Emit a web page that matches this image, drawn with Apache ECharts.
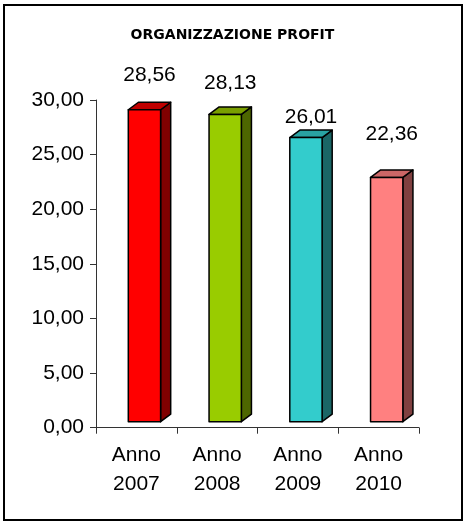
<!DOCTYPE html>
<html>
<head>
<meta charset="utf-8">
<title>Organizzazione profit</title>
<script src="https://cdn.jsdelivr.net/npm/echarts@6/dist/echarts.min.js"></script>
<style>
  html, body { margin: 0; padding: 0; background: #fff; }
  #chart { width: 465px; height: 524px; }
</style>
</head>
<body>
<div id="chart"></div>
<script>
// Data
const categories = ['Anno 2007', 'Anno 2008', 'Anno 2009', 'Anno 2010'];
const values = [28.56, 28.13, 26.01, 22.36];
const yTicks = { min: 0, max: 30, interval: 5 };

// Styling for the pseudo-3D columns
const frontColors = ['#FF0000', '#99CC00', '#33CCCC', '#FF8080'];
const topColors   = ['#C00000', '#7A9F00', '#29A3A3', '#CC6666'];
const sideColors  = ['#800000', '#4D6600', '#1A6666', '#804040'];
const labelLift = [35, 31, 20, 43];   // distance of value label above the column top

const FONT = '"Liberation Sans", Arial, sans-serif';
const fmt = v => v.toFixed(2).replace('.', ',');

const chart = echarts.init(document.getElementById('chart'), null, { renderer: 'canvas' });

function renderColumn(params, api) {
  const i = api.value(0);
  const v = api.value(1);
  const band = api.size([1, 0])[0];
  const topPt = api.coord([i, v]);
  const basePt = api.coord([i, 0]);
  const raise = 6;
  const w = band * 0.40;
  const dx = band * 0.125;
  const dy = 7.5;
  const L = topPt[0] - band * 0.10;
  const R = L + w;
  const T = topPt[1] - raise;
  const B = basePt[1] - raise;
  const stroke = { stroke: '#000', lineWidth: 1.5, lineJoin: 'round' };
  return {
    type: 'group',
    children: [
      { type: 'polygon', shape: { points: [[R, T], [R + dx, T - dy], [R + dx, B - dy], [R, B]] },
        style: Object.assign({ fill: sideColors[i] }, stroke) },
      { type: 'polygon', shape: { points: [[L, T], [L + dx, T - dy], [R + dx, T - dy], [R, T]] },
        style: Object.assign({ fill: topColors[i] }, stroke) },
      { type: 'rect', shape: { x: L, y: T, width: w, height: B - T },
        style: Object.assign({ fill: frontColors[i] }, stroke) },
      { type: 'text', x: L + (w + dx) / 2, y: T - labelLift[i],
        style: { text: fmt(values[i]), fill: '#000', font: '21px ' + FONT,
                 align: 'center', verticalAlign: 'middle' } }
    ]
  };
}

chart.setOption({
  animation: false,
  backgroundColor: '#fff',
  title: {
    text: 'ORGANIZZAZIONE PROFIT',
    left: 'center',
    top: 23,
    textStyle: { fontFamily: '"DejaVu Sans", sans-serif', fontWeight: 'bold', fontSize: 14, color: '#000' }
  },
  graphic: [{
    type: 'rect',
    shape: { x: 4, y: 5, width: 458, height: 515 },
    style: { fill: 'none', stroke: '#000', lineWidth: 2 },
    silent: true
  }],
  grid: { left: 96, right: 46, top: 100, bottom: 96.3 },
  xAxis: {
    type: 'category',
    data: categories,
    boundaryGap: true,
    axisLine: { show: true, lineStyle: { color: '#333', width: 1 } },
    axisTick: { show: true, length: 6, lineStyle: { color: '#333' } },
    axisLabel: {
      margin: 13,
      formatter: s => s.replace(' ', '\n'),
      fontFamily: FONT, fontSize: 21, lineHeight: 29, color: '#000'
    },
    splitLine: { show: false }
  },
  yAxis: {
    type: 'value',
    min: yTicks.min, max: yTicks.max, interval: yTicks.interval,
    axisLine: { show: true, lineStyle: { color: '#333', width: 1 } },
    axisTick: { show: true, length: 6, lineStyle: { color: '#333' } },
    axisLabel: { margin: 12, formatter: v => fmt(v), fontFamily: FONT, fontSize: 21, color: '#000' },
    splitLine: { show: false }
  },
  series: [{
    type: 'custom',
    renderItem: renderColumn,
    clip: false,
    data: values.map((v, i) => [i, v])
  }]
});
</script>
</body>
</html>
